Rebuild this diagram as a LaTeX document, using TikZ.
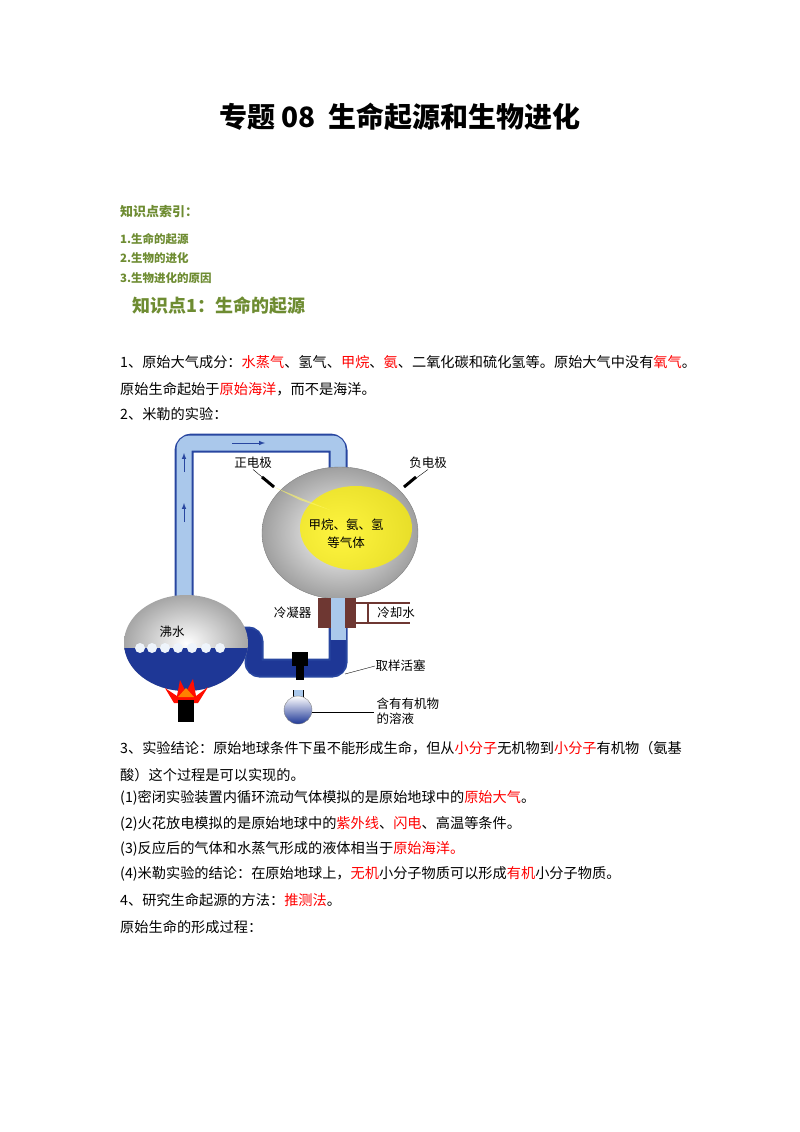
\documentclass[tikz,border=0pt]{standalone}
\usepackage{fontspec}
\setmainfont{Noto Sans CJK SC}
\usetikzlibrary{positioning}
\definecolor{kgreen}{RGB}{110,140,50}
\definecolor{tubeblue}{RGB}{170,200,235}
\definecolor{edgeblue}{RGB}{40,70,160}
\definecolor{waterblue}{RGB}{30,55,150}
\definecolor{condbrown}{RGB}{110,55,50}
\newcommand{\hl}[1]{\textcolor{red}{#1}}
\tikzset{
  body/.style={anchor=west, font=\fontsize{14.2}{16}\selectfont, inner sep=0},
  idx/.style={anchor=west, font=\fontsize{11.5}{13}\selectfont\bfseries, text=kgreen, inner sep=0},
  lab/.style={font=\fontsize{12.5}{14}\selectfont, inner sep=0.5},
  tube/.style={line width=19pt, edgeblue},
  tubein/.style={line width=15pt, tubeblue},
  flow/.style={edgeblue, line width=1pt, -latex},
}
\begin{document}
\begin{tikzpicture}[x=1pt, y=-1pt]
  \useasboundingbox (0,0) rectangle (800,1132);
  \node[font=\fontsize{28}{32}\selectfont\bfseries] (title) at (400,117) {专题 08\ \ 生命起源和生物进化};

  \node[idx, font=\fontsize{13}{15}\selectfont\bfseries] (index) at (120,212) {知识点索引：};
  \node[idx] (i1) at (120,239) {1.生命的起源};
  \node[idx] (i2) at (120,258) {2.生物的进化};
  \node[idx] (i3) at (120,278) {3.生物进化的原因};
  \node[idx, font=\fontsize{18}{20}\selectfont\bfseries] (k1) at (132,306) {知识点1：生命的起源};

  \node[body] (l1) at (120,362) {1、原始大气成分：\hl{水蒸气}、氢气、\hl{甲烷}、\hl{氨}、二氧化碳和硫化氢等。原始大气中没有\hl{氧气}。};
  \node[body] (l2) at (120,389) {原始生命起始于\hl{原始海洋}，而不是海洋。};
  \node[body] (l3) at (120,414) {2、米勒的实验：};

  % apparatus
  \draw[tube, rounded corners=8] (184,610) -- (184,443) -- (338,443) -- (338,600);
  \draw[tubein, rounded corners=6] (184,610) -- (184,443) -- (338,443) -- (338,600);
  \draw[tube, rounded corners=6] (230,636) -- (254,636) -- (254,668) -- (338,668) -- (338,590);
  \draw[line width=15pt, waterblue, rounded corners=5] (230,636) -- (254,636) -- (254,668) -- (338,668) -- (338,640);
  \draw[tubein] (338,590) -- (338,640);
  \draw[flow] (184,522) -- (184,503);
  \draw[flow] (184,472) -- (184,453);
  \draw[flow] (232,443) -- (265,443);
  \draw[flow] (338,598) -- (338,622);

  % upper flask
  \shade[inner color=white, middle color=gray!25, outer color=gray!75] (340,533) ellipse (78 and 66);
  \fill[yellow, opacity=0.75] (356,528) ellipse (56 and 42);
  \fill[yellow!60, opacity=0.6] (300,500) -- (274,487) -- (330,510) -- cycle;
  \draw[gray] (340,533) ellipse (78 and 66);
  \node[lab] (gas1) at (346,525) {甲烷、氨、氢};
  \node[lab] (gas2) at (346,543) {等气体};
  \coordinate (epos) at (274,487);
  \coordinate (eneg) at (404,487);
  \draw[line width=3pt] (epos) -- ++(-12,-10);
  \draw[line width=3pt] (eneg) -- ++(12,-10);
  \node[lab] (pos) at (253,463) {正电极};
  \node[lab] (neg) at (428,463) {负电极};
  \draw (pos.south) -- (epos);
  \draw (neg.south) -- (eneg);

  % condenser
  \fill[condbrown] (318,598) rectangle (356,628);
  \fill[tubein] (331,598) rectangle (345,628);
  \draw[condbrown, line width=2pt] (356,603) -- (410,603);
  \draw[condbrown, line width=2pt] (356,623) -- (410,623);
  \draw[condbrown, line width=2pt] (368,603) -- (368,623);
  \node[lab, left=6pt of {(318,613)}] (cond) {冷凝器};
  \node[lab] (cool) at (396,613) {冷却水};

  % lower flask
  \shade[inner color=white, middle color=gray!30, outer color=gray!70] (186,643) ellipse (62 and 48);
  \begin{scope}
    \clip (186,643) ellipse (62 and 48);
    \fill[waterblue] (120,648) rectangle (250,700);
    \foreach \bx in {140,152,165,178,192,206,220}
      \fill[white!80!tubeblue] (\bx,648) circle (5);
  \end{scope}
  \node[lab] (boil) at (172,632) {沸水};
  \fill[red!90!orange] (165,688) -- (177,696) -- (180,680) -- (186,692) -- (193,679) -- (196,696) -- (208,687) -- (198,703) -- (174,703) -- cycle;
  \fill[orange] (178,697) -- (186,688) -- (194,697) -- cycle;
  \fill[black] (178,700) rectangle (194,722);

  % stopcock and sample flask
  \fill[black] (292,652) rectangle (308,666);
  \fill[black] (296,666) rectangle (304,680);
  \fill[tubeblue] (293,690) rectangle (303,700);
  \draw (293,690) -- (293,700) (303,690) -- (303,700);
  \shade[top color=white, bottom color=waterblue] (298,710) circle (14);
  \draw[gray] (298,710) circle (14);
  \node[lab, anchor=west] (valve) at (375,666) {取样活塞};
  \draw (345,674) -- (valve.west);
  \node[lab, anchor=west] (sol1) at (376,704) {含有有机物};
  \node[lab, anchor=west] (sol2) at (376,719) {的溶液};
  \draw (312,712) -- (374,712);

  \node[body] (l4) at (120,748) {3、实验结论：原始地球条件下虽不能形成生命，但从\hl{小分子}无机物到\hl{小分子}有机物（氨基};
  \node[body] (l5) at (120,775) {酸）这个过程是可以实现的。};
  \node[body] (l6) at (120,798) {(1)密闭实验装置内循环流动气体模拟的是原始地球中的\hl{原始大气}。};
  \node[body] (l7) at (120,824) {(2)火花放电模拟的是原始地球中的\hl{紫外线}、\hl{闪电}、高温等条件。};
  \node[body] (l8) at (120,849) {(3)反应后的气体和水蒸气形成的液体相当于\hl{原始海洋。}};
  \node[body] (l9) at (120,874) {(4)米勒实验的结论：在原始地球上，\hl{无机}小分子物质可以形成\hl{有机}小分子物质。};
  \node[body] (l10) at (120,900) {4、研究生命起源的方法：\hl{推测法}。};
  \node[body] (l11) at (120,927) {原始生命的形成过程：};
\end{tikzpicture}
\end{document}
